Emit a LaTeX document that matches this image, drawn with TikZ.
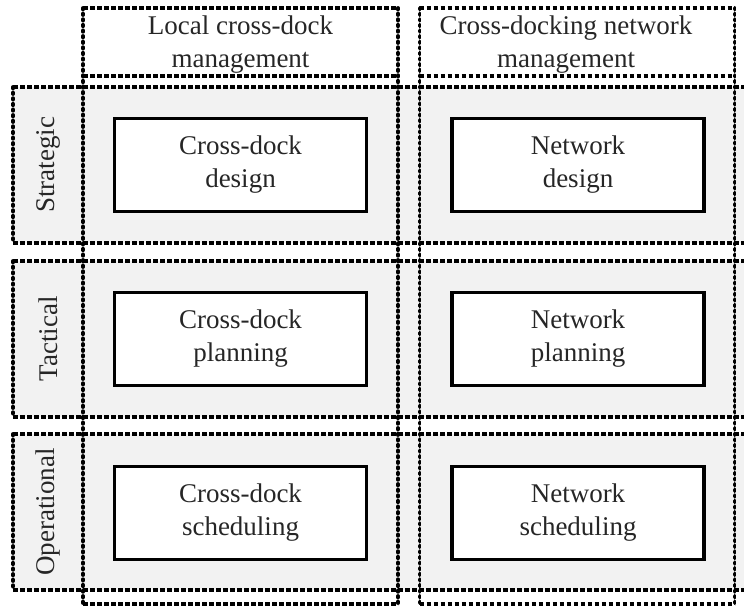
\documentclass[tikz,border=0pt]{standalone}
\usepackage{fontspec}
\setmainfont{Liberation Serif}
\begin{document}
\begin{tikzpicture}[x=1pt,y=-1pt,
  every node/.style={inner sep=0pt, outer sep=0pt},
  txt/.style={font=\fontsize{27}{33}\selectfont, text=black!85, align=center},
  band/.style={rectangle, fill=black!5, minimum width=740pt, minimum height=156pt},
  column/.style={rectangle, minimum width=315pt, minimum height=596pt},
  header/.style={rectangle, txt, minimum width=315pt, minimum height=68pt},
  task/.style={rectangle, txt, draw=black, fill=white, line width=3.4pt,
               minimum width=252pt, minimum height=93pt},
  hline/.style={line width=3.4pt, dash pattern=on 4.6pt off 2.4pt},
  vline/.style={line width=3.8pt, line cap=round, dash pattern=on 1.4pt off 4.2pt}]
\useasboundingbox (0,0) rectangle (744,609);
\clip (0,0) rectangle (744,609);

% dashed frame around a named node: dashes along the top and bottom, dots on the sides
\newcommand\dashframe[1]{%
  \draw[hline] (#1.north west) -- (#1.north east);
  \draw[hline] (#1.south west) -- (#1.south east);
  \draw[vline] (#1.north west) -- (#1.south west);
  \draw[vline] (#1.north east) -- (#1.south east);}

% planning levels (shaded bands)
\node[band] (strategic)   at (383,165) {};
\node[band] (tactical)    at (383,339) {};
\node[band] (operational) at (383,512) {};

% management columns and their headers
\node[column] (colLocal) at (240.5,306) {};
\node[column] (colNet)   at (577,306) {};
\node[header] (hdLocal)  at (240.5,42) {};
\node[header] (hdNet)    at (577,42) {};
\node[txt] (hdLocalText) at (240.5,45) {Local cross-dock\\management};
\node[txt] (hdNetText)   at (566,45)   {Cross-docking network\\management};

\dashframe{colLocal}
\dashframe{colNet}
\draw[hline] (hdLocal.south west) -- (hdLocal.south east);
\draw[hline] (hdNet.south west) -- (hdNet.south east);
\dashframe{strategic}
\dashframe{tactical}
\dashframe{operational}

% level labels
\node[txt, rotate=90] (lbStrat) at (48,165) {Strategic};
\node[txt, rotate=90] (lbTact)  at (48,339) {Tactical};
\node[txt, rotate=90] (lbOper)  at (48,512) {Operational};

% decision problems
\node[task] (cdDesign)   at (240.5,165) {Cross-dock\\design};
\node[task] (netDesign)  at (578,165)   {Network\\design};
\node[task] (cdPlan)     at (240.5,339) {Cross-dock\\planning};
\node[task] (netPlan)    at (578,339)   {Network\\planning};
\node[task] (cdSched)    at (240.5,513) {Cross-dock\\scheduling};
\node[task] (netSched)   at (578,513)   {Network\\scheduling};
\end{tikzpicture}
\end{document}
